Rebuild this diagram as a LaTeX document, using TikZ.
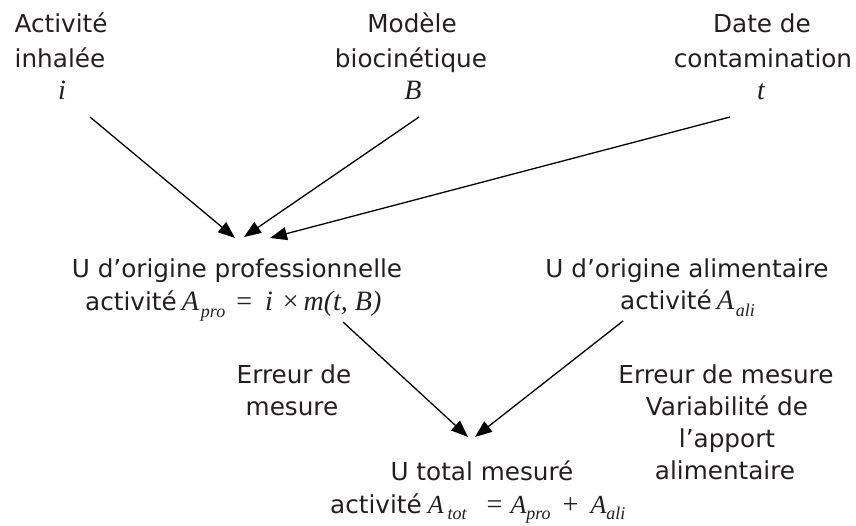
\documentclass[tikz,border=0pt]{standalone}
\usepackage{fontspec}
\setmainfont{DejaVu Sans}
\newfontfamily\tmfont{Liberation Serif}
\usetikzlibrary{arrows.meta}
\definecolor{ink}{RGB}{35,31,32}
\newcommand\mvar[1]{{\fontsize{28}{30}\selectfont\tmfont\itshape #1}}
\newcommand\mvars[1]{{\fontsize{26}{30}\selectfont\tmfont\itshape #1}}
\newcommand\mop[1]{{\fontsize{28}{30}\selectfont\tmfont #1}}
\newcommand\msub[1]{\raisebox{-6pt}{\fontsize{18}{20}\selectfont\tmfont\itshape #1}}
\begin{document}
\begin{tikzpicture}[x=1pt,y=-1pt,
  txt/.style={anchor=base, inner sep=0pt, font=\fontsize{24.7}{30}\selectfont, text=ink},
  txtw/.style={anchor=base west, inner sep=0pt, font=\fontsize{24.7}{30}\selectfont, text=ink},
  var/.style={anchor=base, inner sep=0pt, font=\fontsize{28}{30}\selectfont\tmfont\itshape, text=ink},
  arr/.style={line width=1.3pt, draw=black, -{Triangle[length=17pt,width=13pt]}}]
\useasboundingbox (0,0) rectangle (856,526);

% top inputs
\node[txt] (a1) at (61,33) {Activité};
\node[txt] (a2) at (60,68) {inhalée};
\node[var] (vi) at (62,100) {i};
\node[txt] (b1) at (412,33) {Modèle};
\node[txt] (b2) at (411,68) {biocinétique};
\node[var] (vB) at (413,100) {B};
\node[txt] (c1) at (762,33) {Date de};
\node[txt] (c2) at (763,68) {contamination};
\node[var] (vt) at (761,100) {t};

% middle
\node[txt] (p1) at (237,278) {U d’origine professionnelle};
\node[txtw] (p2) at (85,311) {activité\hspace{5pt}\mvar{A}\hspace{2pt}\msub{pro}\hspace{11pt}\mop{=}\hspace{13pt}\mvar{i}\hspace{10pt}\mop{×}\hspace{5pt}\mvar{m(t, B)}};
\node[txt] (l1) at (687,278) {U d’origine alimentaire};
\node[txtw] (l2) at (620,310) {activité\hspace{5pt}\mvar{A}\hspace{2pt}\msub{ali}};

% error labels
\node[txt] (e1) at (294,383) {Erreur de};
\node[txt] (e2) at (292,415) {mesure};
\node[txt] (r1) at (726,383) {Erreur de mesure};
\node[txt] (r2) at (727,415) {Variabilité de};
\node[txt] (r3) at (727,447) {l’apport};
\node[txt] (r4) at (725,479) {alimentaire};

% bottom
\node[txt] (t1) at (482,480) {U total mesuré};
\node[txtw] (t2) at (330,513) {activité\hspace{6pt}\mvars{A}\hspace{4pt}\msub{tot}\hspace{20pt}\mop{=}\hspace{8pt}\mvars{A}\msub{pro}\hspace{12pt}\mop{+}\hspace{12pt}\mvars{A}\msub{ali}};

% arrow end points
\coordinate (iS) at (90,117);
\coordinate (BS) at (419,117);
\coordinate (tS) at (730,117);
\coordinate (proT1) at (235,238);
\coordinate (proT2) at (244,237);
\coordinate (proT3) at (270,238);
\coordinate (proS) at (343,322);
\coordinate (aliS) at (623,321);
\coordinate (totT1) at (468,437);
\coordinate (totT2) at (475,437);

\draw[arr] (iS) -- (proT1);
\draw[arr] (BS) -- (proT2);
\draw[arr] (tS) -- (proT3);
\draw[arr] (proS) -- (totT1);
\draw[arr] (aliS) -- (totT2);
\end{tikzpicture}
\end{document}
